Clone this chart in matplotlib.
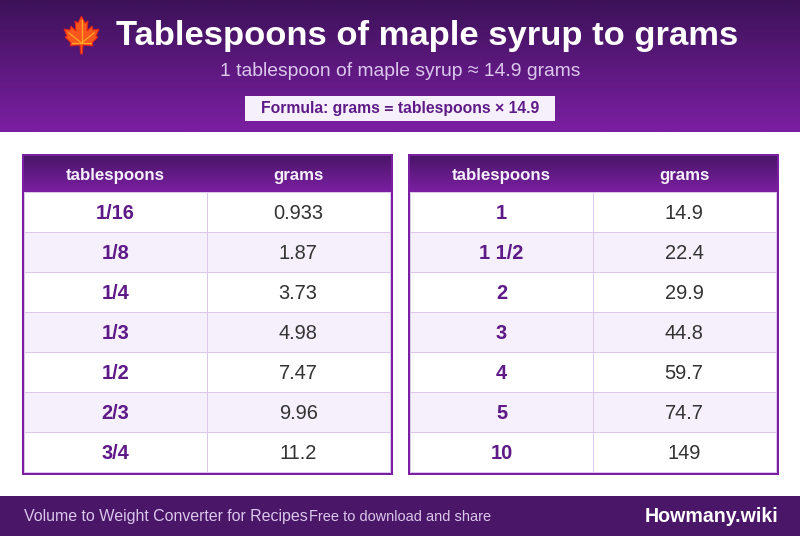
import numpy as np
import matplotlib
matplotlib.use('Agg')
import matplotlib.pyplot as plt
from matplotlib.colors import LinearSegmentedColormap
from matplotlib.patches import Polygon, Rectangle

plt.rcParams['font.family'] = ['Liberation Sans', 'DejaVu Sans']
plt.rcParams['text.hinting'] = 'native'

title = 'Tablespoons of maple syrup to grams'
subtitle = '1 tablespoon of maple syrup ≈ 14.9 grams'
formula = 'Formula: grams = tablespoons × 14.9'
col_names = ['tablespoons', 'grams']
left_tbsp = ['1/16', '1/8', '1/4', '1/3', '1/2', '2/3', '3/4']
left_grams = ['0.933', '1.87', '3.73', '4.98', '7.47', '9.96', '11.2']
right_tbsp = ['1', '1 1/2', '2', '3', '4', '5', '10']
right_grams = ['14.9', '22.4', '29.9', '44.8', '59.7', '74.7', '149']
footer_left = 'Volume to Weight Converter for Recipes'
footer_mid = 'Free to download and share'
footer_right = 'Howmany.wiki'

DARK = '#3d1259'
PURPLE = '#7b1fa2'
INK = '#4a1668'
ROW_ALT = '#f5f0fb'
LINE = '#dcc8ec'

grad = LinearSegmentedColormap.from_list('head', [DARK, PURPLE])
ramp = np.linspace(0, 1, 64).reshape(-1, 1)

# whole figure is one axes in pixel coordinates
fig = plt.figure(figsize=(8, 5.36), dpi=100)
ax = fig.add_axes([0, 0, 1, 1])
ax.set_xlim(0, 800)
ax.set_ylim(536, 0)
ax.axis('off')


def px(size):
    return size * 0.72


def block(x, y, w, h, color, z=1):
    ax.add_patch(Rectangle((x, y), w, h, fc=color, ec='none', lw=0, zorder=z))


def draw_table(x0, tbsp, grams):
    w = 371
    split = x0 + 185
    # frame, then the inner body
    block(x0, 154, w, 321, PURPLE, 1)
    block(x0 + 2, 156, w - 4, 317, LINE, 1.1)
    ax.imshow(ramp, cmap=LinearSegmentedColormap.from_list('t', [INK, PURPLE]), aspect='auto',
              extent=(x0 + 2, x0 + w - 2, 192, 156), zorder=2)
    ax.text(x0 + 93.5, 179.7, col_names[0], color=ROW_ALT, fontsize=px(16.7), fontweight='bold',
            ha='center', va='baseline', zorder=4)
    ax.text(split + 91, 179.7, col_names[1], color=ROW_ALT, fontsize=px(16.7), fontweight='bold',
            ha='center', va='baseline', zorder=4)
    for i in range(len(tbsp)):
        top = 193 + i * 40
        bg = ROW_ALT if i % 2 == 1 else 'white'
        block(x0 + 3, top, 182, 39, bg, 1.2)
        block(split + 1, top, w - 185 - 4, 39, bg, 1.2)
        ax.text(x0 + 93.5, top + 26.2, tbsp[i], color='#5e1a87', fontsize=px(20), fontweight='bold',
                ha='center', va='baseline', zorder=4)
        ax.text(split + 91, top + 26.2, grams[i], color='#333333', fontsize=px(20),
                ha='center', va='baseline', zorder=4)


# header band
ax.imshow(ramp, cmap=grad, aspect='auto', extent=(0, 800, 132, 0), zorder=0)

# maple leaf, there is no emoji font to draw it from
leaf = [(81.5, 16), (85, 23), (88, 21), (87, 31), (92, 26), (93, 30), (99, 29), (96, 36), (98, 37),
        (92, 43), (93, 46), (83, 45), (82.5, 54), (80.5, 54), (80, 45), (70, 46), (71, 43), (65, 37),
        (67, 36), (64, 29), (70, 30), (71, 26), (76, 31), (75, 21), (78, 23)]
ax.add_patch(Polygon(leaf, closed=True, fc='#f8561c', ec='#e0201a', lw=0.7, zorder=3))
for end in [(81.5, 20), (69, 33), (94, 33), (72, 43), (91, 43)]:
    ax.plot([81.5, end[0]], [43, end[1]], color='#ffa726', lw=0.9, zorder=4)

ax.text(427.5, 45.2, title, color='white', fontsize=px(34.7), fontweight='bold', ha='center', va='baseline', zorder=4)
ax.text(400, 76.2, subtitle, color=LINE, fontsize=px(19.3), ha='center', va='baseline', zorder=4)
block(245, 96, 310, 25, ROW_ALT, 3)
ax.text(400, 113.2, formula, color='#5e1a87', fontsize=px(15.8), fontweight='bold', ha='center', va='baseline', zorder=4)

draw_table(22, left_tbsp, left_grams)
draw_table(408, right_tbsp, right_grams)

# footer
block(0, 496, 800, 40, INK, 1)
ax.text(24, 521.2, footer_left, color=LINE, fontsize=px(15.9), ha='left', va='baseline', zorder=4)
ax.text(309, 521.2, footer_mid, color=LINE, fontsize=px(14.6), ha='left', va='baseline', zorder=4)
ax.text(778, 522.2, footer_right, color='white', fontsize=px(19.6), fontweight='bold', ha='right', va='baseline', zorder=4)

ax.set_xlim(0, 800)
ax.set_ylim(536, 0)
fig.savefig('out.png', dpi=100)
